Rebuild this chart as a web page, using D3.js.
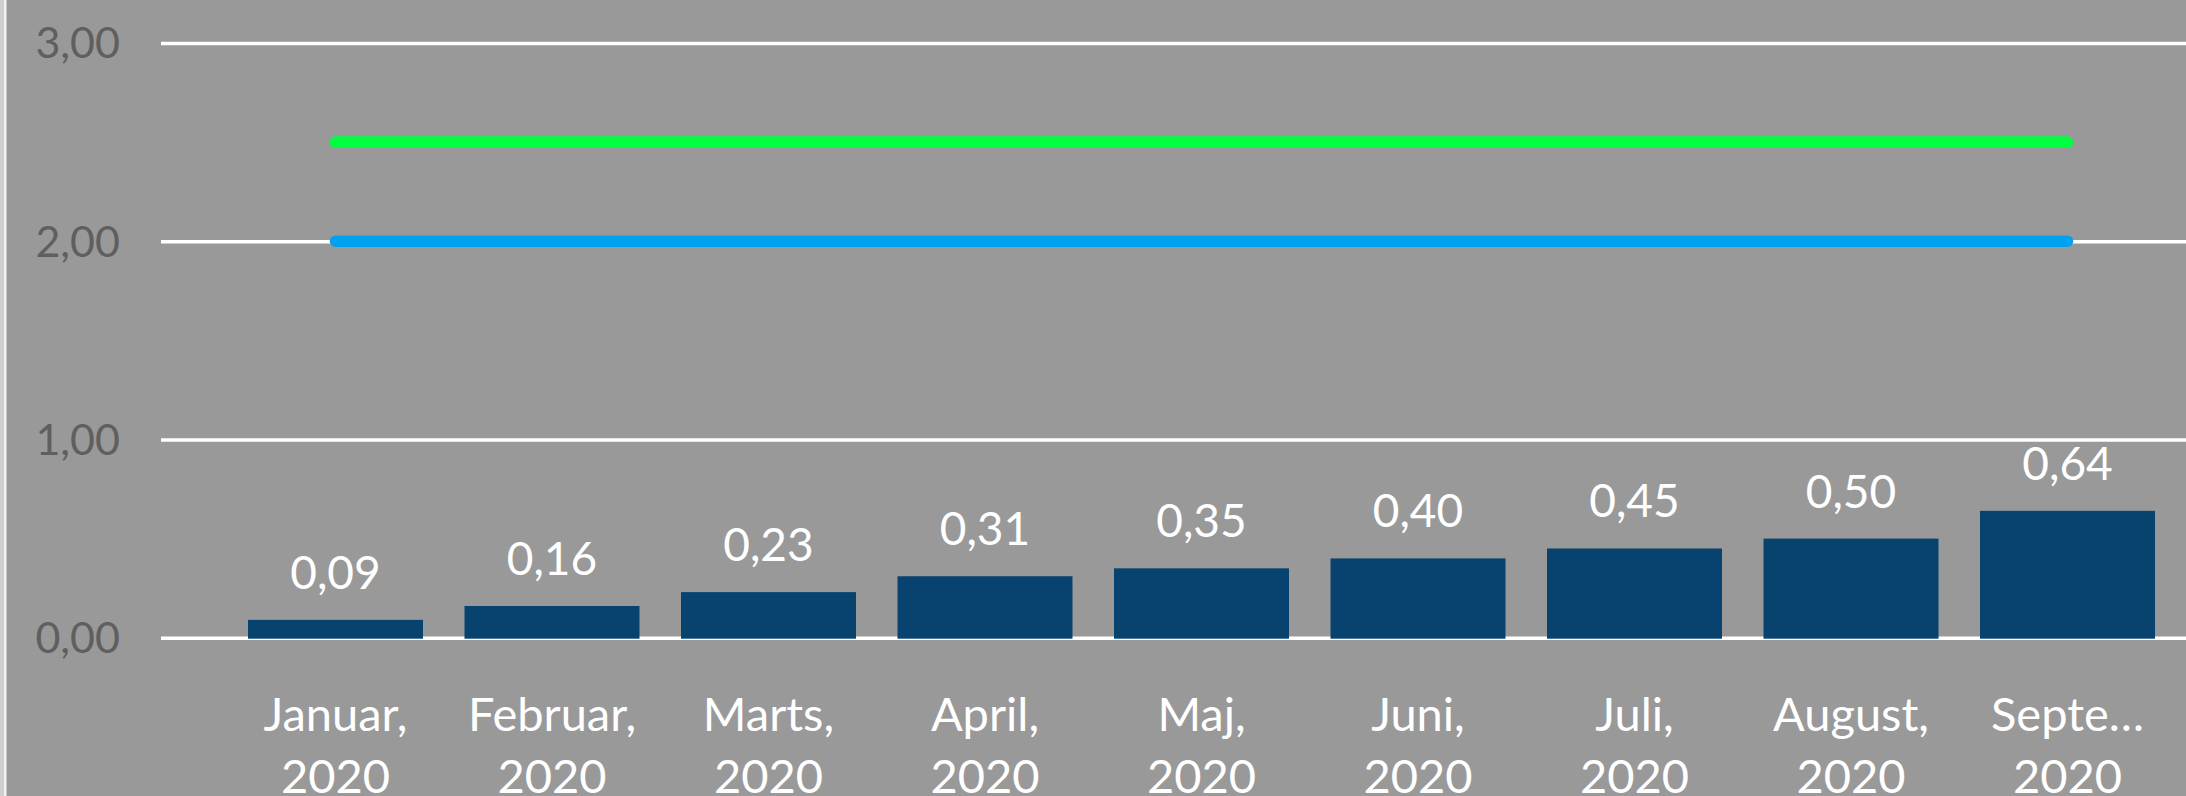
<!DOCTYPE html>
<html>
<head>
<meta charset="utf-8">
<script src="https://cdn.jsdelivr.net/npm/d3@7"></script>
<style>
html,body{margin:0;padding:0;background:#999999;overflow:hidden;}
svg{display:block;}
</style>
</head>
<body>
<svg id="chart" width="2186" height="796"></svg>
<script>
const months = ["Januar,", "Februar,", "Marts,", "April,", "Maj,", "Juni,", "Juli,", "August,", "Septe…"];
const years = ["2020","2020","2020","2020","2020","2020","2020","2020","2020"];
const values = [0.09, 0.16, 0.23, 0.31, 0.35, 0.40, 0.45, 0.50, 0.64];
const targetGreen = [2.5, 2.5, 2.5, 2.5, 2.5, 2.5, 2.5, 2.5, 2.5];
const targetBlue = [2.0, 2.0, 2.0, 2.0, 2.0, 2.0, 2.0, 2.0, 2.0];
const yTicks = [0, 1, 2, 3];
const yTickLabels = ["0,00", "1,00", "2,00", "3,00"];

const W = 2186, H = 796;
const svg = d3.select("#chart");
const font = "Lato, 'Open Sans', sans-serif";

svg.append("rect").attr("x",0).attr("y",0).attr("width",W).attr("height",H).attr("fill","#999999");
// left border
svg.append("rect").attr("x",0).attr("y",0).attr("width",4).attr("height",H).attr("fill","#cfcfcf");
svg.append("rect").attr("x",4).attr("y",0).attr("width",2.5).attr("height",H).attr("fill","#f2f2f2");

const gridLeft = 161, gridRight = W;
const y = d3.scaleLinear().domain([0,3]).range([637.7, 43]);
const x = d3.scaleBand().domain(d3.range(months.length)).range([227.25, 2175.75])
  .paddingInner(0.1917).paddingOuter(0.0958);

// gridlines
const yAxis = d3.axisLeft(y).tickValues(yTicks).tickSize(-(gridRight - gridLeft)).tickFormat("");
const gAxis = svg.append("g").attr("transform", `translate(${gridLeft},0)`).call(yAxis);
gAxis.select(".domain").remove();
gAxis.selectAll(".tick line").attr("stroke","#ffffff").attr("stroke-width",3.5);

// tick labels
svg.append("g").selectAll("text").data(yTicks).join("text")
  .attr("x", 120).attr("y", d => y(d))
  .attr("dy", "0.36em")
  .attr("text-anchor","end")
  .attr("font-family", font).attr("font-size", 43)
  .attr("fill","#5f5f5f")
  .text((d,i) => yTickLabels[i]);

// bars
svg.append("g").selectAll("rect").data(values).join("rect")
  .attr("x", (d,i) => x(i))
  .attr("width", x.bandwidth())
  .attr("y", d => y(d))
  .attr("height", d => y(0) - y(d) + 1)
  .attr("fill", "#084370");

// lines
const line = d3.line().x((d,i) => x(i) + x.bandwidth()/2).y(d => y(d));
svg.append("path").datum(targetGreen).attr("d", line)
  .attr("fill","none").attr("stroke","#00ff41").attr("stroke-width",11.5).attr("stroke-linecap","round");
svg.append("path").datum(targetBlue).attr("d", line)
  .attr("fill","none").attr("stroke","#00a2f0").attr("stroke-width",11.5).attr("stroke-linecap","round");

// data labels
svg.append("g").selectAll("text").data(values).join("text")
  .attr("x", (d,i) => x(i) + x.bandwidth()/2)
  .attr("y", d => y(d) - 31)
  .attr("text-anchor","middle")
  .attr("font-family", font).attr("font-size", 46)
  .attr("fill","#ffffff")
  .text(d => d3.format(".2f")(d).replace(".", ","));

// category labels
const cat = svg.append("g").selectAll("text").data(months).join("text")
  .attr("x", (d,i) => x(i) + x.bandwidth()/2)
  .attr("y", 731)
  .attr("text-anchor","middle")
  .attr("font-family", font).attr("font-size", 47)
  .attr("fill","#ffffff");
cat.append("tspan").attr("x", (d,i) => x(i) + x.bandwidth()/2).text(d => d);
cat.append("tspan").attr("x", (d,i) => x(i) + x.bandwidth()/2).attr("dy", 62).text((d,i) => years[i]);
</script>
</body>
</html>
